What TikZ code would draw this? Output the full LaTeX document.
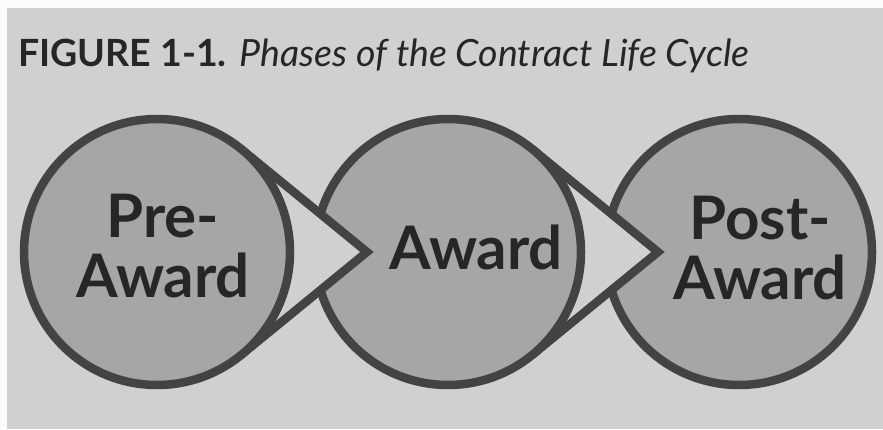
\documentclass[tikz,border=0pt]{standalone}
\usepackage{fontspec}
\setmainfont{Lato}
\usetikzlibrary{positioning,calc}

\definecolor{paper}{HTML}{CFD0CF}
\definecolor{disc}{HTML}{A6A6A6}
\definecolor{rim}{HTML}{434343}
\definecolor{ink}{HTML}{262626}

\begin{document}
\begin{tikzpicture}[
  x=1pt, y=1pt,
  node distance=291pt,
  phase/.style={circle, draw=rim, fill=disc, line width=8.5pt,
                minimum size=266pt, inner sep=0pt},
  lbl/.style={align=center, text=ink, inner sep=0pt,
              font=\bfseries\fontsize{60}{60}\selectfont},
  tear/.style={draw=rim, line width=8.5pt, line join=miter}
]
% page
\fill[white!92!paper] (0,0) rectangle (883,429);
\fill[paper] (7,0) rectangle (883,421);
\useasboundingbox (0,0) rectangle (883,429);

% caption
\node[anchor=base west, inner sep=0pt, text=ink,
      font=\fontsize{37.5}{44}\selectfont] (title) at (18,362)
  {\textbf{FIGURE 1-1.} \textit{Phases of the Contract Life Cycle}};

% centres of the three phases
\coordinate (c1) at (157,177);
\coordinate[on grid, right=of c1] (c2);
\coordinate[on grid, right=of c2] (c3);

% back to front: post, tip of award, award, tip of pre, pre
\node[phase] (post) at (c3) {};

\coordinate (tip2) at ($(c2)+(210,0)$);
\coordinate (up2) at ($(c2)+(50.7:133)$);
\coordinate (dn2) at ($(c2)+(-50.7:133)$);
\fill[paper] (c2) -- (up2) -- (tip2) -- (dn2) -- cycle;
\draw[tear] (up2) -- (tip2) -- (dn2);

\node[phase] (award) at (c2) {};

\coordinate (tip1) at ($(c1)+(210,0)$);
\coordinate (up1) at ($(c1)+(50.7:133)$);
\coordinate (dn1) at ($(c1)+(-50.7:133)$);
\fill[paper] (c1) -- (up1) -- (tip1) -- (dn1) -- cycle;
\draw[tear] (up1) -- (tip1) -- (dn1);

\node[phase] (pre) at (c1) {};

% labels
\node[lbl] (pretxt) at ($(pre)+(6,6)$) {Pre-\\Award};
\node[lbl] (awardtxt) at ($(award)+(28,5)$) {Award};
\node[lbl] (posttxt) at ($(post)+(21,4)$) {Post-\\Award};
\end{tikzpicture}
\end{document}
